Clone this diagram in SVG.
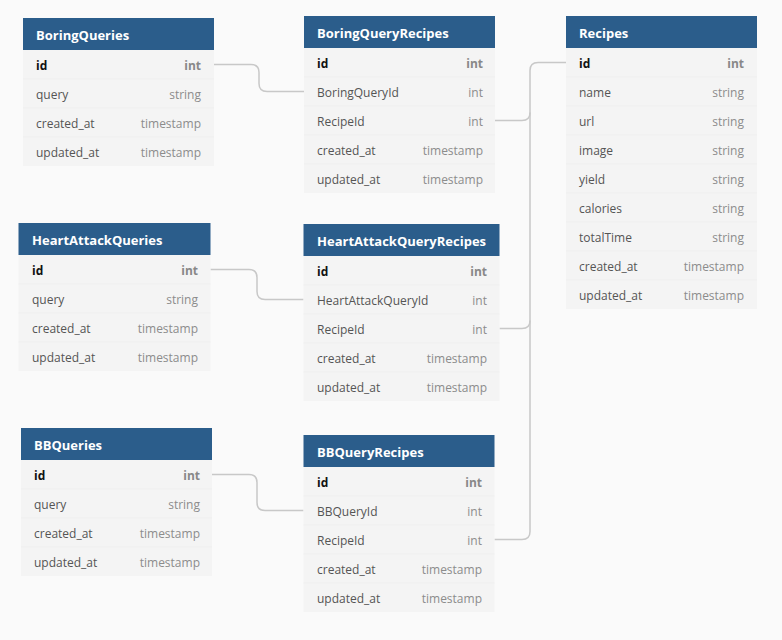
<svg xmlns="http://www.w3.org/2000/svg" width="782" height="640" viewBox="0 0 782 640">
<style>
.hdr{fill:#2b5d8b}
.body{fill:#f4f4f4}
.sep{stroke:#efefef;stroke-width:1}
.title{font-family:"Open Sans","Liberation Sans",sans-serif;font-size:13px;font-weight:700;fill:#ffffff}
.fn{font-family:"Open Sans","Liberation Sans",sans-serif;font-size:12px;fill:#555555}
.ft{font-family:"Open Sans","Liberation Sans",sans-serif;font-size:12px;fill:#8c8c8c;text-anchor:end}
.pk{font-weight:700;fill:#111111}
.pkt{font-weight:700;fill:#888888}
.conn path{fill:none;stroke:#c8c8c8;stroke-width:1.5}
</style>
<rect width="782" height="640" fill="#fafafa"/>
<g class="conn" id="connectors">
<path d="M214,64.5 H251 Q259,64.5 259,72.5 V83.5 Q259,91.5 267,91.5 H304"/>
<path d="M210.5,269.5 H249 Q257,269.5 257,277.5 V291.5 Q257,299.5 265,299.5 H303.5"/>
<path d="M212,474.5 H249 Q257,474.5 257,482.5 V502.5 Q257,510.5 265,510.5 H303.5"/>
<path d="M566,62.5 H538 Q530,62.5 530,70.5 V531.5 Q530,539.5 522,539.5 H494.5"/>
<path d="M495,120.5 H522 Q530,120.5 530,112.5"/>
<path d="M499.5,328.5 H522 Q530,328.5 530,320.5"/>
</g>
<g id="BoringQueries">
<rect class="body" x="23" y="50" width="191" height="116"/>
<rect class="hdr" x="23" y="18" width="191" height="32"/>
<line class="sep" x1="23" y1="79" x2="214" y2="79"/><line class="sep" x1="23" y1="108" x2="214" y2="108"/><line class="sep" x1="23" y1="137" x2="214" y2="137"/>
<text class="title" x="36" y="39.5">BoringQueries</text>
<text class="fn pk" x="36" y="70">id</text><text class="ft pkt" x="201" y="70">int</text>
<text class="fn" x="36" y="99">query</text><text class="ft" x="201" y="99">string</text>
<text class="fn" x="36" y="128">created_at</text><text class="ft" x="201" y="128">timestamp</text>
<text class="fn" x="36" y="157">updated_at</text><text class="ft" x="201" y="157">timestamp</text>
</g>
<g id="BoringQueryRecipes">
<rect class="body" x="304" y="48" width="191" height="145"/>
<rect class="hdr" x="304" y="16" width="191" height="32"/>
<line class="sep" x1="304" y1="77" x2="495" y2="77"/><line class="sep" x1="304" y1="106" x2="495" y2="106"/><line class="sep" x1="304" y1="135" x2="495" y2="135"/><line class="sep" x1="304" y1="164" x2="495" y2="164"/>
<text class="title" x="317" y="37.5">BoringQueryRecipes</text>
<text class="fn pk" x="317" y="68">id</text><text class="ft pkt" x="483" y="68">int</text>
<text class="fn" x="317" y="97">BoringQueryId</text><text class="ft" x="483" y="97">int</text>
<text class="fn" x="317" y="126">RecipeId</text><text class="ft" x="483" y="126">int</text>
<text class="fn" x="317" y="155">created_at</text><text class="ft" x="483" y="155">timestamp</text>
<text class="fn" x="317" y="184">updated_at</text><text class="ft" x="483" y="184">timestamp</text>
</g>
<g id="Recipes">
<rect class="body" x="566" y="48" width="191" height="261"/>
<rect class="hdr" x="566" y="16" width="191" height="32"/>
<line class="sep" x1="566" y1="77" x2="757" y2="77"/><line class="sep" x1="566" y1="106" x2="757" y2="106"/><line class="sep" x1="566" y1="135" x2="757" y2="135"/><line class="sep" x1="566" y1="164" x2="757" y2="164"/><line class="sep" x1="566" y1="193" x2="757" y2="193"/><line class="sep" x1="566" y1="222" x2="757" y2="222"/><line class="sep" x1="566" y1="251" x2="757" y2="251"/><line class="sep" x1="566" y1="280" x2="757" y2="280"/>
<text class="title" x="579" y="37.5">Recipes</text>
<text class="fn pk" x="579" y="68">id</text><text class="ft pkt" x="744" y="68">int</text>
<text class="fn" x="579" y="97">name</text><text class="ft" x="744" y="97">string</text>
<text class="fn" x="579" y="126">url</text><text class="ft" x="744" y="126">string</text>
<text class="fn" x="579" y="155">image</text><text class="ft" x="744" y="155">string</text>
<text class="fn" x="579" y="184">yield</text><text class="ft" x="744" y="184">string</text>
<text class="fn" x="579" y="213">calories</text><text class="ft" x="744" y="213">string</text>
<text class="fn" x="579" y="242">totalTime</text><text class="ft" x="744" y="242">string</text>
<text class="fn" x="579" y="271">created_at</text><text class="ft" x="744" y="271">timestamp</text>
<text class="fn" x="579" y="300">updated_at</text><text class="ft" x="744" y="300">timestamp</text>
</g>
<g id="HeartAttackQueries">
<rect class="body" x="18.5" y="255" width="192" height="116"/>
<rect class="hdr" x="18.5" y="223" width="192" height="32"/>
<line class="sep" x1="18.5" y1="284" x2="210.5" y2="284"/><line class="sep" x1="18.5" y1="313" x2="210.5" y2="313"/><line class="sep" x1="18.5" y1="342" x2="210.5" y2="342"/>
<text class="title" x="32" y="244.5">HeartAttackQueries</text>
<text class="fn pk" x="32" y="275">id</text><text class="ft pkt" x="198" y="275">int</text>
<text class="fn" x="32" y="304">query</text><text class="ft" x="198" y="304">string</text>
<text class="fn" x="32" y="333">created_at</text><text class="ft" x="198" y="333">timestamp</text>
<text class="fn" x="32" y="362">updated_at</text><text class="ft" x="198" y="362">timestamp</text>
</g>
<g id="HeartAttackQueryRecipes">
<rect class="body" x="303.5" y="256" width="196" height="145"/>
<rect class="hdr" x="303.5" y="224" width="196" height="32"/>
<line class="sep" x1="303.5" y1="285" x2="499.5" y2="285"/><line class="sep" x1="303.5" y1="314" x2="499.5" y2="314"/><line class="sep" x1="303.5" y1="343" x2="499.5" y2="343"/><line class="sep" x1="303.5" y1="372" x2="499.5" y2="372"/>
<text class="title" x="317" y="245.5">HeartAttackQueryRecipes</text>
<text class="fn pk" x="317" y="276">id</text><text class="ft pkt" x="487" y="276">int</text>
<text class="fn" x="317" y="305">HeartAttackQueryId</text><text class="ft" x="487" y="305">int</text>
<text class="fn" x="317" y="334">RecipeId</text><text class="ft" x="487" y="334">int</text>
<text class="fn" x="317" y="363">created_at</text><text class="ft" x="487" y="363">timestamp</text>
<text class="fn" x="317" y="392">updated_at</text><text class="ft" x="487" y="392">timestamp</text>
</g>
<g id="BBQueries">
<rect class="body" x="21" y="460" width="191" height="116"/>
<rect class="hdr" x="21" y="428" width="191" height="32"/>
<line class="sep" x1="21" y1="489" x2="212" y2="489"/><line class="sep" x1="21" y1="518" x2="212" y2="518"/><line class="sep" x1="21" y1="547" x2="212" y2="547"/>
<text class="title" x="34" y="449.5">BBQueries</text>
<text class="fn pk" x="34" y="480">id</text><text class="ft pkt" x="200" y="480">int</text>
<text class="fn" x="34" y="509">query</text><text class="ft" x="200" y="509">string</text>
<text class="fn" x="34" y="538">created_at</text><text class="ft" x="200" y="538">timestamp</text>
<text class="fn" x="34" y="567">updated_at</text><text class="ft" x="200" y="567">timestamp</text>
</g>
<g id="BBQueryRecipes">
<rect class="body" x="303.5" y="467" width="191" height="145"/>
<rect class="hdr" x="303.5" y="435" width="191" height="32"/>
<line class="sep" x1="303.5" y1="496" x2="494.5" y2="496"/><line class="sep" x1="303.5" y1="525" x2="494.5" y2="525"/><line class="sep" x1="303.5" y1="554" x2="494.5" y2="554"/><line class="sep" x1="303.5" y1="583" x2="494.5" y2="583"/>
<text class="title" x="317" y="456.5">BBQueryRecipes</text>
<text class="fn pk" x="317" y="487">id</text><text class="ft pkt" x="482" y="487">int</text>
<text class="fn" x="317" y="516">BBQueryId</text><text class="ft" x="482" y="516">int</text>
<text class="fn" x="317" y="545">RecipeId</text><text class="ft" x="482" y="545">int</text>
<text class="fn" x="317" y="574">created_at</text><text class="ft" x="482" y="574">timestamp</text>
<text class="fn" x="317" y="603">updated_at</text><text class="ft" x="482" y="603">timestamp</text>
</g>
</svg>
